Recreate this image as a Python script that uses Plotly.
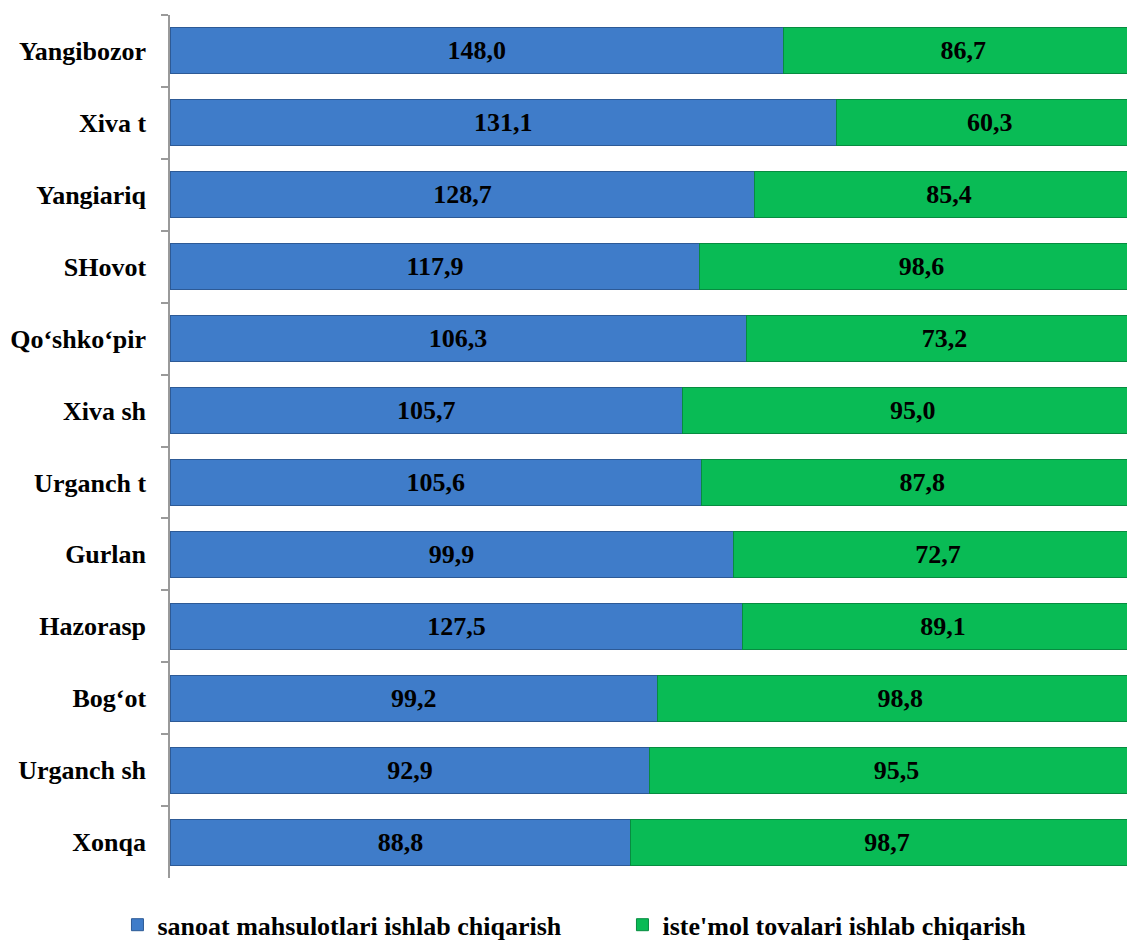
import plotly.graph_objects as go

categories = ["Yangibozor", "Xiva t", "Yangiariq", "SHovot", "Qo‘shko‘pir", "Xiva sh",
              "Urganch t", "Gurlan", "Hazorasp", "Bog‘ot", "Urganch sh", "Xonqa"]
sanoat = [148.0, 131.1, 128.7, 117.9, 106.3, 105.7, 105.6, 99.9, 127.5, 99.2, 92.9, 88.8]
istemol = [86.7, 60.3, 85.4, 98.6, 73.2, 95.0, 87.8, 72.7, 89.1, 98.8, 95.5, 98.7]
series_names = ["sanoat mahsulotlari ishlab chiqarish", "iste'mol tovalari ishlab chiqarish"]


def fmt(v):
    return f"{v:.1f}".replace(".", ",")


FONT = "Liberation Serif"
BOLD = dict(family=FONT, size=26, color="black", weight="bold")

fig = go.Figure()
fig.add_trace(go.Bar(
    y=categories, x=sanoat, orientation="h", name=series_names[0],
    marker=dict(color="#3f7cc9", line=dict(color="#2d5a96", width=1)),
    text=[fmt(v) for v in sanoat], textposition="inside", insidetextanchor="middle",
    textfont=BOLD, textangle=0,
))
fig.add_trace(go.Bar(
    y=categories, x=istemol, orientation="h", name=series_names[1],
    marker=dict(color="#09bb55", line=dict(color="#078c40", width=1)),
    text=[fmt(v) for v in istemol], textposition="inside", insidetextanchor="middle",
    textfont=BOLD, textangle=0,
))

fig.update_layout(
    width=1135, height=940, autosize=False,
    barmode="stack", barnorm="percent", bargap=0.36,
    plot_bgcolor="white", paper_bgcolor="white",
    margin=dict(l=162, r=0, t=7, b=70, autoexpand=False),
    font=BOLD,
    xaxis=dict(range=[0, 100], visible=False, showgrid=False, zeroline=False),
    yaxis=dict(autorange="reversed", showline=True, linecolor="#9a9a9a", linewidth=1.5,
               ticks="outside", tickson="boundaries", ticklen=7, tickcolor="#9a9a9a",
               tickwidth=1.5, ticklabelstandoff=17, automargin=False,
               tickfont=BOLD, showgrid=False),
    legend=dict(orientation="h", x=-0.054, xanchor="left", y=-0.027, yanchor="top",
                traceorder="normal",
                entrywidth=460, entrywidthmode="pixels",
                font=BOLD),
    uniformtext=dict(mode="show", minsize=10),
)

fig.write_html("out.html")
